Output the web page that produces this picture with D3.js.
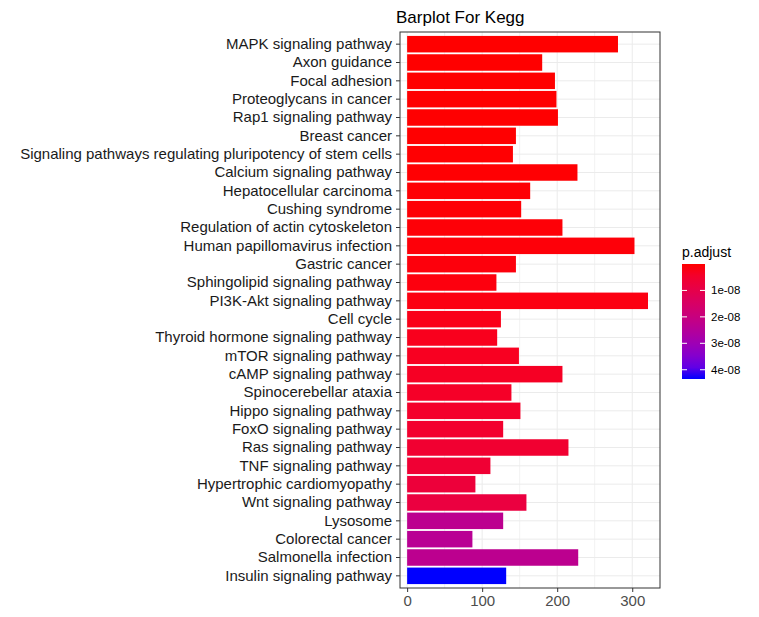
<!DOCTYPE html>
<html><head><meta charset="utf-8">
<script src="https://cdn.jsdelivr.net/npm/d3@7"></script>
<style>body{margin:0;background:#fff}svg{font-family:"Liberation Sans",Arial,sans-serif}</style>
</head><body><div id="chart"></div>
<script>
// KEGG enrichment barplot
const pathways = ["MAPK signaling pathway","Axon guidance","Focal adhesion","Proteoglycans in cancer","Rap1 signaling pathway","Breast cancer","Signaling pathways regulating pluripotency of stem cells","Calcium signaling pathway","Hepatocellular carcinoma","Cushing syndrome","Regulation of actin cytoskeleton","Human papillomavirus infection","Gastric cancer","Sphingolipid signaling pathway","PI3K-Akt signaling pathway","Cell cycle","Thyroid hormone signaling pathway","mTOR signaling pathway","cAMP signaling pathway","Spinocerebellar ataxia","Hippo signaling pathway","FoxO signaling pathway","Ras signaling pathway","TNF signaling pathway","Hypertrophic cardiomyopathy","Wnt signaling pathway","Lysosome","Colorectal cancer","Salmonella infection","Insulin signaling pathway"];
const counts = [281,180,197,199,201,145,141,227,164,152,207,303,145,119,321,125,120,149,207,139,151,128,215,111,91,159,128,87,228,132];
const padj = [1e-11,2e-11,3e-11,5e-11,8e-11,1e-10,1.5e-10,2e-10,3e-10,4e-10,5e-10,6e-10,8e-10,1e-9,1.2e-9,2e-9,2.5e-9,3e-9,3.5e-9,4e-9,4.5e-9,5e-9,5.5e-9,6e-9,7e-9,8e-9,2.3e-8,2.4e-8,2.3e-8,4.35e-8];
const xTicks = [0,100,200,300];
const legendTicks = [1e-8,2e-8,3e-8,4e-8];

const svg = d3.select("#chart").append("svg").attr("width",759).attr("height",617);
const L=400, R=660, T=32, B=588;

const x = d3.scaleLinear().domain([-9.5,337]).range([L,R]);
const y = d3.scaleBand().domain(pathways).range([T+3,B-3]).paddingInner(0.1).paddingOuter(0.05);
const color = d3.scaleLinear().domain([0,4.35e-8]).range(["#ff0000","#0000ff"]).interpolate(d3.interpolateLab).clamp(true);

// grid
const g = svg.append("g");
const minor = [50,150,250];
minor.forEach(v=>g.append("line").attr("x1",x(v)).attr("x2",x(v)).attr("y1",T).attr("y2",B).attr("stroke","#f2f2f2"));
xTicks.forEach(v=>g.append("line").attr("x1",x(v)).attr("x2",x(v)).attr("y1",T).attr("y2",B).attr("stroke","#ebebeb"));
pathways.forEach(p=>g.append("line").attr("x1",L).attr("x2",R).attr("y1",y(p)+y.bandwidth()/2).attr("y2",y(p)+y.bandwidth()/2).attr("stroke","#ebebeb"));

svg.selectAll("rect.bar").data(pathways).enter().append("rect").attr("class","bar")
  .attr("x",x(0)).attr("y",d=>y(d)).attr("height",y.bandwidth())
  .attr("width",(d,i)=>x(counts[i])-x(0)).attr("fill",(d,i)=>color(padj[i]));

svg.append("rect").attr("x",L).attr("y",T).attr("width",R-L).attr("height",B-T).attr("fill","none").attr("stroke","#333").attr("stroke-width",1);

const ax = svg.append("g").attr("transform",`translate(0,${B})`).call(d3.axisBottom(x).tickValues(xTicks).tickSize(4).tickPadding(3));
ax.select(".domain").remove();
ax.selectAll("text").attr("font-size",15).attr("fill","#4d4d4d").attr("font-family","Liberation Sans");
ax.selectAll("line").attr("stroke","#333");

const ay = svg.append("g").attr("transform",`translate(${L},0)`).call(d3.axisLeft(y).tickSize(4).tickPadding(4));
ay.select(".domain").remove();
ay.selectAll("text").attr("font-size",15).attr("fill","#1a1a1a").attr("font-family","Liberation Sans");
ay.selectAll("line").attr("stroke","#333");

svg.append("text").attr("x",396).attr("y",23).attr("font-size",17).text("Barplot For Kegg");

// legend
const lg = svg.append("g");
lg.append("text").attr("x",682).attr("y",257).attr("font-size",14).text("p.adjust");
const grad = svg.append("defs").append("linearGradient").attr("id","gr").attr("x1",0).attr("x2",0).attr("y1",0).attr("y2",1);
d3.range(0,1.01,0.1).forEach(t=>grad.append("stop").attr("offset",t).attr("stop-color",color(t*4.35e-8)));
const ly = d3.scaleLinear().domain([0,4.35e-8]).range([264,379]);
lg.append("rect").attr("x",682).attr("y",264).attr("width",23).attr("height",115).attr("fill","url(#gr)");
legendTicks.forEach(v=>{
  lg.append("line").attr("x1",682).attr("x2",687).attr("y1",ly(v)).attr("y2",ly(v)).attr("stroke","#fff");
  lg.append("line").attr("x1",700).attr("x2",705).attr("y1",ly(v)).attr("y2",ly(v)).attr("stroke","#fff");
  lg.append("text").attr("x",711).attr("y",ly(v)+4).attr("font-size",11.5).text(d3.format(".0e")(v).replace("e-8","e-08"));
});
</script></body></html>
